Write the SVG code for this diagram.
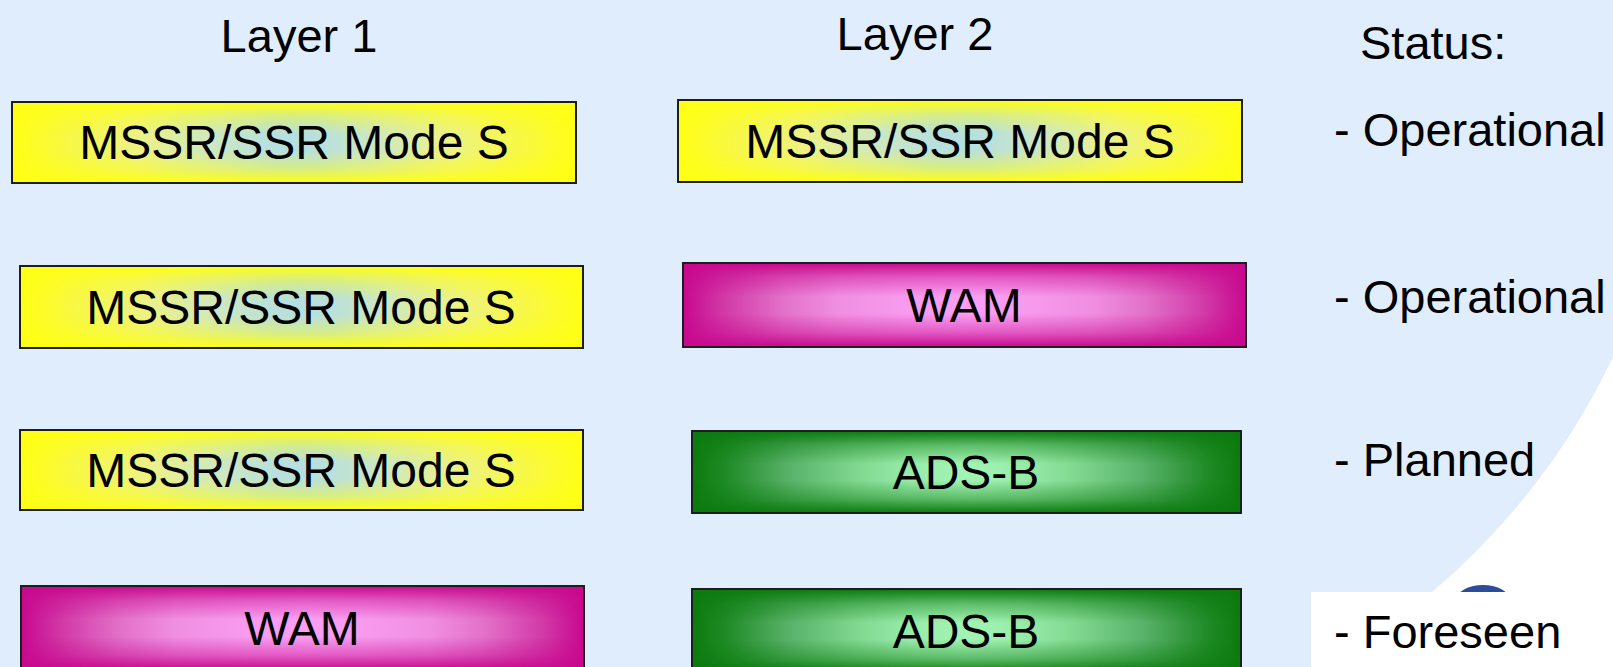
<svg xmlns="http://www.w3.org/2000/svg" xmlns:xlink="http://www.w3.org/1999/xlink" width="1613" height="667" viewBox="0 0 1613 667">
  <style>
    .lbl { font-family: "Liberation Sans", Arial, sans-serif; font-size: 47px; fill: #000; }
    .box { font-size: 48px; }
    .mid { text-anchor: middle; }
    .frame { fill: none; stroke: #1e1e1e; stroke-width: 2; }
  </style>
  <defs>
    <!-- box fills: symmetric horizontal ramp, darkened toward top and bottom by fading bands -->
    <linearGradient id="yH" x1="0" y1="0" x2="1" y2="0">
      <stop offset="0" stop-color="#ffff14"/>
      <stop offset="0.1" stop-color="#f8f845"/>
      <stop offset="0.225" stop-color="#edf285"/>
      <stop offset="0.35" stop-color="#cfe8c0"/>
      <stop offset="0.45" stop-color="#b9e0dc"/>
      <stop offset="0.5" stop-color="#b6dfe0"/>
      <stop offset="0.55" stop-color="#b9e0dc"/>
      <stop offset="0.65" stop-color="#cfe8c0"/>
      <stop offset="0.775" stop-color="#edf285"/>
      <stop offset="0.9" stop-color="#f8f845"/>
      <stop offset="1" stop-color="#ffff14"/>
    </linearGradient>
    <linearGradient id="mH" x1="0" y1="0" x2="1" y2="0">
      <stop offset="0" stop-color="#c8088e"/>
      <stop offset="0.075" stop-color="#d23aa8"/>
      <stop offset="0.175" stop-color="#e270c8"/>
      <stop offset="0.275" stop-color="#f08fe2"/>
      <stop offset="0.4" stop-color="#f89bef"/>
      <stop offset="0.5" stop-color="#fa9ff3"/>
      <stop offset="0.6" stop-color="#f89bef"/>
      <stop offset="0.725" stop-color="#f08fe2"/>
      <stop offset="0.825" stop-color="#e270c8"/>
      <stop offset="0.925" stop-color="#d23aa8"/>
      <stop offset="1" stop-color="#c8088e"/>
    </linearGradient>
    <linearGradient id="gH" x1="0" y1="0" x2="1" y2="0">
      <stop offset="0" stop-color="#0b7a0e"/>
      <stop offset="0.06" stop-color="#1f8a26"/>
      <stop offset="0.18" stop-color="#5ab36a"/>
      <stop offset="0.3" stop-color="#80d890"/>
      <stop offset="0.4" stop-color="#98ecaa"/>
      <stop offset="0.5" stop-color="#a2f4b4"/>
      <stop offset="0.6" stop-color="#98ecaa"/>
      <stop offset="0.7" stop-color="#80d890"/>
      <stop offset="0.82" stop-color="#5ab36a"/>
      <stop offset="0.94" stop-color="#1f8a26"/>
      <stop offset="1" stop-color="#0b7a0e"/>
    </linearGradient>
    <linearGradient id="yV" x1="0" y1="0" x2="0" y2="1">
      <stop offset="0" stop-color="#ffff14" stop-opacity="1"/>
      <stop offset="0.35" stop-color="#ffff14" stop-opacity="0.45"/>
      <stop offset="0.8" stop-color="#ffff14" stop-opacity="0"/>
    </linearGradient>
    <linearGradient id="mV" x1="0" y1="0" x2="0" y2="1">
      <stop offset="0" stop-color="#c8088e" stop-opacity="1"/>
      <stop offset="0.35" stop-color="#c8088e" stop-opacity="0.45"/>
      <stop offset="0.8" stop-color="#c8088e" stop-opacity="0"/>
    </linearGradient>
    <linearGradient id="gV" x1="0" y1="0" x2="0" y2="1">
      <stop offset="0" stop-color="#0b7a0e" stop-opacity="1"/>
      <stop offset="0.35" stop-color="#0b7a0e" stop-opacity="0.45"/>
      <stop offset="0.8" stop-color="#0b7a0e" stop-opacity="0"/>
    </linearGradient>
    <symbol id="fill-yellow" viewBox="0 0 100 100" preserveAspectRatio="none">
      <rect width="100" height="100" fill="url(#yH)"/>
      <rect width="100" height="50" fill="url(#yV)"/>
      <rect width="100" height="50" fill="url(#yV)" transform="matrix(1 0 0 -1 0 100)"/>
    </symbol>
    <symbol id="fill-magenta" viewBox="0 0 100 100" preserveAspectRatio="none">
      <rect width="100" height="100" fill="url(#mH)"/>
      <rect width="100" height="50" fill="url(#mV)"/>
      <rect width="100" height="50" fill="url(#mV)" transform="matrix(1 0 0 -1 0 100)"/>
    </symbol>
    <symbol id="fill-green" viewBox="0 0 100 100" preserveAspectRatio="none">
      <rect width="100" height="100" fill="url(#gH)"/>
      <rect width="100" height="50" fill="url(#gV)"/>
      <rect width="100" height="50" fill="url(#gV)" transform="matrix(1 0 0 -1 0 100)"/>
    </symbol>
  </defs>

  <!-- backdrop -->
  <rect width="1613" height="667" fill="#e0edfd"/>
  <path d="M1613,357 A707,707 0 0,1 1325,667 L1613,667 Z" fill="#ffffff"/>
  <ellipse cx="1483" cy="602" rx="28" ry="17" fill="#2e4c9c"/>
  <rect x="1311" y="592" width="302" height="75" fill="#ffffff"/>

  <!-- column headings and status list -->
  <text class="lbl mid" x="299" y="52">Layer 1</text>
  <text class="lbl mid" x="915" y="50">Layer 2</text>
  <text class="lbl" x="1360" y="59">Status:</text>
  <text class="lbl" x="1334" y="146">- Operational</text>
  <text class="lbl" x="1334" y="313">- Operational</text>
  <text class="lbl" x="1334" y="476">- Planned</text>
  <text class="lbl" x="1334" y="648">- Foreseen</text>

  <!-- row 1 -->
  <g id="r1-layer1">
    <use xlink:href="#fill-yellow" x="12" y="102" width="564" height="81"/>
    <rect class="frame" x="12" y="102" width="564" height="81"/>
    <text class="lbl box mid" x="294" y="159">MSSR/SSR Mode S</text>
  </g>
  <g id="r1-layer2">
    <use xlink:href="#fill-yellow" x="678" y="100" width="564" height="82"/>
    <rect class="frame" x="678" y="100" width="564" height="82"/>
    <text class="lbl box mid" x="960" y="158">MSSR/SSR Mode S</text>
  </g>

  <!-- row 2 -->
  <g id="r2-layer1">
    <use xlink:href="#fill-yellow" x="20" y="266" width="563" height="82"/>
    <rect class="frame" x="20" y="266" width="563" height="82"/>
    <text class="lbl box mid" x="301" y="324">MSSR/SSR Mode S</text>
  </g>
  <g id="r2-layer2">
    <use xlink:href="#fill-magenta" x="683" y="263" width="563" height="84"/>
    <rect class="frame" x="683" y="263" width="563" height="84"/>
    <text class="lbl box mid" x="964" y="322">WAM</text>
  </g>

  <!-- row 3 -->
  <g id="r3-layer1">
    <use xlink:href="#fill-yellow" x="20" y="430" width="563" height="80"/>
    <rect class="frame" x="20" y="430" width="563" height="80"/>
    <text class="lbl box mid" x="301" y="487">MSSR/SSR Mode S</text>
  </g>
  <g id="r3-layer2">
    <use xlink:href="#fill-green" x="692" y="431" width="549" height="82"/>
    <rect class="frame" x="692" y="431" width="549" height="82"/>
    <text class="lbl box mid" x="966" y="489">ADS-B</text>
  </g>

  <!-- row 4 -->
  <g id="r4-layer1">
    <use xlink:href="#fill-magenta" x="21" y="586" width="563" height="84"/>
    <rect class="frame" x="21" y="586" width="563" height="84"/>
    <text class="lbl box mid" x="302" y="645">WAM</text>
  </g>
  <g id="r4-layer2">
    <use xlink:href="#fill-green" x="692" y="589" width="549" height="84"/>
    <rect class="frame" x="692" y="589" width="549" height="84"/>
    <text class="lbl box mid" x="966" y="648">ADS-B</text>
  </g>

  <g id="connectors"/>
</svg>
